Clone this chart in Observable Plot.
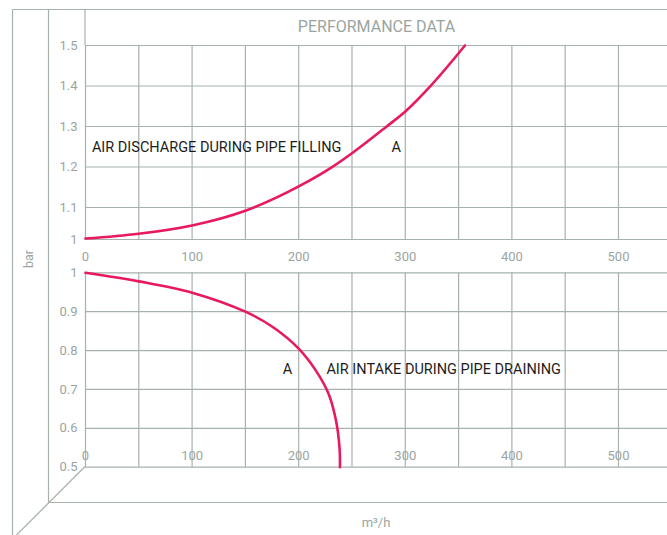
<!DOCTYPE html>
<html><head><meta charset="utf-8">
<script src="https://cdn.jsdelivr.net/npm/d3@7"></script>
<script src="https://cdn.jsdelivr.net/npm/@observablehq/plot@0.6"></script>
<style>
body{margin:0;background:#fff;font-family:Roboto,sans-serif}
#chart{position:relative;width:667px;height:535px;overflow:hidden;background:#fff}
#chart svg{position:absolute;left:0;top:0;overflow:visible;background:transparent}
</style></head><body><div id="chart"></div>
<script>
// ---- data ----
const title = "PERFORMANCE DATA";
const yUnit = "bar";
const xUnit = "m³/h";
const xTicks = [0, 100, 200, 300, 400, 500];
const xGrid = [0, 50, 100, 150, 200, 250, 300, 350, 400, 450, 500];
const topTicks = [1, 1.1, 1.2, 1.3, 1.4, 1.5];
const bottomTicks = [0.5, 0.6, 0.7, 0.8, 0.9, 1];
// Curve A: air discharge during pipe filling (bar vs m3/h)
const fillFlow = [0, 50, 100, 150, 200, 232, 250, 282, 300, 324, 356];
const fillPressure = [1.003, 1.018, 1.044, 1.09, 1.152, 1.201, 1.234, 1.299, 1.337, 1.401, 1.5];
// Curve A: air intake during pipe draining
const drainFlow = [0, 50, 100, 150, 176, 200, 216, 228, 235, 238.3, 238.7];
const drainPressure = [1.0, 0.978, 0.949, 0.9, 0.86, 0.805, 0.749, 0.689, 0.62, 0.55, 0.5];
const topLabelsStart = [{text: "AIR DISCHARGE DURING PIPE FILLING", x: 6, y: 1.249}];
const topLabelsMid = [{text: "A", x: 291.5, y: 1.249}];
const bottomLabelsMid = [{text: "A", x: 189.5, y: 0.751}];
const bottomLabelsStart = [{text: "AIR INTAKE DURING PIPE DRAINING", x: 226, y: 0.751}];

// ---- styles ----
const GRID = "#a6b2aa", TXT = "#9aa59f", PINK = "#e8195f", INK = "#1c1c1c";
const W = 667, XMAX = 546;

const fillData = fillFlow.map((x, i) => ({x, y: fillPressure[i]}));
const drainData = drainFlow.map((x, i) => ({x, y: drainPressure[i]}));

const chart = document.getElementById("chart");

// decorative frame (pseudo-3D box)
const frame = d3.create("svg").attr("width", W).attr("height", 535);
const fl = [[12.5, 9.5, W, 9.5], [12.5, 9.5, 12.5, 535], [48.5, 9.5, 48.5, 502.5], [48.5, 502.5, W, 502.5], [85, 466.5, 12, 539.5], [85, 9.5, 85, 45]];
frame.selectAll("line").data(fl).join("line")
  .attr("x1", d => d[0]).attr("y1", d => d[1]).attr("x2", d => d[2]).attr("y2", d => d[3])
  .attr("stroke", GRID).attr("stroke-width", 1.2);
frame.append("text").text(yUnit).attr("transform", "translate(33,259) rotate(-90)")
  .attr("text-anchor", "middle").attr("fill", TXT).attr("font-family", "Roboto").attr("font-size", 12.5);
frame.append("text").text(xUnit).attr("x", 376).attr("y", 527)
  .attr("text-anchor", "middle").attr("fill", TXT).attr("font-family", "Roboto").attr("font-size", 13);
chart.append(frame.node());

const common = {
  width: W, marginLeft: 85, marginRight: 0, marginTop: 0,
  style: {background: "transparent", overflow: "visible", fontFamily: "Roboto", fontSize: "13px"}
};

const topPlot = Plot.plot({
  ...common, height: 270, marginBottom: 30,
  x: {type: "linear", domain: [0, XMAX], label: null},
  y: {type: "linear", domain: [1, 1.1, 1.5], range: [239, 207, 45], label: null},
  marks: [
    Plot.ruleX(xGrid, {y1: 1, y2: 1.5, stroke: GRID, strokeWidth: 1.2}),
    Plot.ruleY(topTicks, {x1: 0, x2: XMAX, stroke: GRID, strokeWidth: 1.2}),
    Plot.axisY(topTicks, {tickSize: 0, tickPadding: 8, color: TXT, fontSize: 13, tickFormat: d => String(d), label: null}),
    Plot.axisX(xTicks, {anchor: "bottom", tickSize: 0, tickPadding: 11, color: TXT, fontSize: 13, label: null}),
    Plot.line(fillData, {x: "x", y: "y", stroke: PINK, strokeWidth: 2.6, curve: "monotone-x"}),
    Plot.text(topLabelsStart, {x: "x", y: "y", text: "text", textAnchor: "start", fill: INK, fontSize: 14.5}),
    Plot.text(topLabelsMid, {x: "x", y: "y", text: "text", textAnchor: "middle", fill: INK, fontSize: 14.5}),
    Plot.text([title], {frameAnchor: "top", dy: 26, text: d => d, fill: TXT, fontSize: 16, lineAnchor: "middle"})
  ]
});
chart.append(topPlot);

const bottomPlot = Plot.plot({
  ...common, height: 535, marginBottom: 68,
  x: {type: "linear", domain: [0, XMAX], label: null},
  y: {type: "linear", domain: [0.5, 1], range: [466.7, 272.3], label: null},
  marks: [
    Plot.ruleX(xGrid, {y1: 0.5, y2: 1, stroke: GRID, strokeWidth: 1.2}),
    Plot.ruleY(bottomTicks, {x1: 0, x2: XMAX, stroke: GRID, strokeWidth: 1.2}),
    Plot.axisY(bottomTicks, {tickSize: 0, tickPadding: 8, color: TXT, fontSize: 13, tickFormat: d => String(d), label: null}),
    Plot.axisX(xTicks, {anchor: "bottom", tickSize: 0, tickPadding: 0, dy: -17, color: TXT, fontSize: 13, label: null}),
    Plot.line(drainData, {x: "x", y: "y", stroke: PINK, strokeWidth: 2.6, curve: "catmull-rom"}),
    Plot.text(bottomLabelsMid, {x: "x", y: "y", text: "text", textAnchor: "middle", fill: INK, fontSize: 14.5}),
    Plot.text(bottomLabelsStart, {x: "x", y: "y", text: "text", textAnchor: "start", fill: INK, fontSize: 14.5})
  ]
});
chart.append(bottomPlot);
</script>
</body></html>
